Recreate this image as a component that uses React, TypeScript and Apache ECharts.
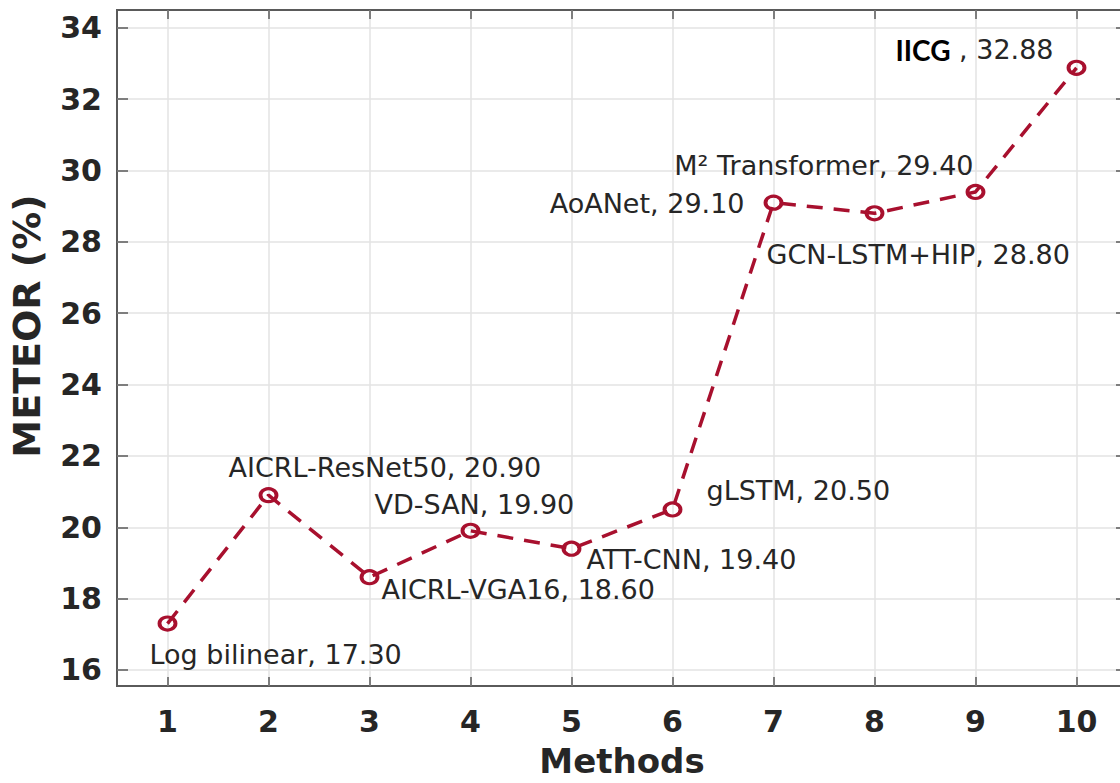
import React, { useEffect, useRef } from "react";
import * as echarts from "echarts";

const methodIndex = [1, 2, 3, 4, 5, 6, 7, 8, 9, 10];
const meteorValues = [17.3, 20.9, 18.6, 19.9, 19.4, 20.5, 29.1, 28.8, 29.4, 32.88];
const methodNames = [
  "Log bilinear",
  "AICRL-ResNet50",
  "AICRL-VGA16",
  "VD-SAN",
  "ATT-CNN",
  "gLSTM",
  "AoANet",
  "GCN-LSTM+HIP",
  "M\u00B2 Transformer",
  "IICG",
];
const yTicks = [16, 18, 20, 22, 24, 26, 28, 30, 32, 34];
const xTicks = [1, 2, 3, 4, 5, 6, 7, 8, 9, 10];

// label placement (style): [dx, dy, align]
const labelPlacement: [number, number, string][] = [
  [-18, 31, "left"],
  [-40, -28, "left"],
  [12, 12, "left"],
  [-96, -26, "left"],
  [15, 11, "left"],
  [34, -19, "left"],
  [-29, 1, "right"],
  [-108, 41, "left"],
  [-2, -26, "right"],
  [-23, -18, "right"],
];

const RED = "#a8102e";
const AXIS = "#5a5a5a";
const TEXT = "#262626";

export default function App() {
  const ref = useRef<HTMLDivElement>(null);
  useEffect(() => {
    if (!ref.current) return;
    const chart = echarts.init(ref.current, null, { renderer: "svg" });
    const data = methodIndex.map((x, i) => {
      const [dx, dy, align] = labelPlacement[i];
      const v = meteorValues[i].toFixed(2);
      const isLast = i === methodIndex.length - 1;
      return {
        value: [x, meteorValues[i]],
        label: {
          show: true,
          position: "inside",
          offset: [dx, dy],
          align,
          verticalAlign: "middle",
          formatter: isLast ? `{b|${methodNames[i]}} , ${v}` : `${methodNames[i]}, ${v}`,
        },
      };
    });
    const baseTick = {
      show: true,
      inside: true,
      length: 9,
      lineStyle: { color: AXIS, width: 1.5 },
    };
    chart.setOption({
      animation: false,
      backgroundColor: "#ffffff",
      grid: {
        left: 117,
        top: 10,
        width: 1010,
        height: 676,
        outerBoundsMode: "none",
        containLabel: false,
        show: true,
        borderColor: AXIS,
        borderWidth: 2,
        backgroundColor: "transparent",
      },
      xAxis: [
        {
          type: "value",
          min: 0.5,
          max: 10.5,
          axisLine: { show: false },
          axisTick: { ...baseTick, customValues: xTicks },
          axisLabel: {
            customValues: xTicks,
            color: TEXT,
            fontFamily: "DejaVu Sans",
            fontWeight: "bold",
            fontSize: 30,
            margin: 20,
          },
          splitLine: { show: true, lineStyle: { color: "#e3e3e3", width: 1.5 } },
          name: "Methods",
          nameLocation: "middle",
          nameGap: 58,
          nameTextStyle: {
            color: TEXT,
            fontFamily: "DejaVu Sans",
            fontWeight: "bold",
            fontSize: 34,
          },
        },
        {
          type: "value",
          position: "top",
          min: 0.5,
          max: 10.5,
          axisLine: { show: false },
          axisTick: { ...baseTick, customValues: xTicks },
          axisLabel: { show: false },
          splitLine: { show: false },
        },
      ],
      yAxis: [
        {
          type: "value",
          min: 15.55,
          max: 34.5,
          axisLine: { show: false },
          axisTick: { ...baseTick, length: 11, customValues: yTicks },
          axisLabel: {
            customValues: yTicks,
            color: TEXT,
            fontFamily: "DejaVu Sans",
            fontWeight: "bold",
            fontSize: 30,
            margin: 15,
          },
          splitLine: { show: true, lineStyle: { color: "#e3e3e3", width: 1.5 } },
        },
        {
          type: "value",
          position: "right",
          min: 15.55,
          max: 34.5,
          axisLine: { show: false },
          axisTick: { ...baseTick, length: 11, customValues: yTicks },
          axisLabel: { show: false },
          splitLine: { show: false },
        },
      ],
      graphic: [
        {
          type: "text",
          x: 27,
          y: 326,
          rotation: Math.PI / 2,
          style: {
            text: "METEOR (%)",
            fill: TEXT,
            font: "bold 38px 'DejaVu Sans'",
            align: "center",
            verticalAlign: "middle",
          },
        },
      ],
      series: [
        {
          type: "line",
          xAxisIndex: 0,
          yAxisIndex: 0,
          data,
          symbol: "circle",
          symbolSize: [16, 13],
          itemStyle: { color: "rgba(0,0,0,0)", borderColor: RED, borderWidth: 3.5 },
          lineStyle: { color: RED, width: 3.5, type: [16, 11] },
          label: {
            color: TEXT,
            fontFamily: "DejaVu Sans",
            fontSize: 27,
            rich: {
              b: {
                fontFamily: "Lato",
                fontWeight: "bold",
                fontSize: 28,
                color: "#000000",
              },
            },
          },
          z: 3,
        },
      ],
    });
    return () => chart.dispose();
  }, []);
  return (
    <div
      ref={ref}
      style={{ position: "fixed", left: 0, top: 0, width: 1120, height: 783, background: "#fff" }}
    />
  );
}
